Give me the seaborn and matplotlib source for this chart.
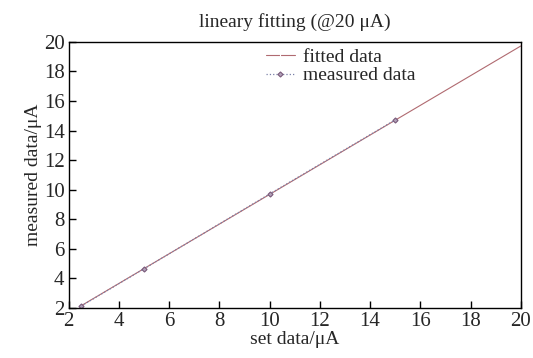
import pandas as pd
import matplotlib.pyplot as plt
import seaborn as sns

# Data
set_fit = [2.5, 5, 10, 15, 20]
fitted = [2.15, 4.66, 9.68, 14.70, 19.72]
set_meas = [2.5, 5, 10, 15]
measured = [2.13, 4.65, 9.71, 14.72]

sns.set_style("ticks")
plt.rcParams["font.family"] = ["Liberation Serif", "DejaVu Serif"]
plt.rcParams["xtick.direction"] = "in"
plt.rcParams["ytick.direction"] = "in"

df_fit = pd.DataFrame({"x": set_fit, "y": fitted})
df_meas = pd.DataFrame({"x": set_meas, "y": measured})

fig = plt.figure(figsize=(5.33, 3.58), dpi=100)
ax = fig.add_axes([0.129, 0.140, 0.848, 0.743])

sns.lineplot(data=df_fit, x="x", y="y", ax=ax, color="#b06a70", lw=0.8,
             marker="|", markersize=4, mew=0.8, label="fitted data")
sns.lineplot(data=df_meas, x="x", y="y", ax=ax, color="#7a80a8", lw=0.9,
             ls=":", marker="D", markersize=2.6, mfc="#b0a0b8", mec="#7a5a7a",
             mew=0.8, label="measured data")

ax.set_xlim(2, 20)
ax.set_ylim(2, 20)
ax.set_xticks(range(2, 21, 2))
ax.set_yticks(range(2, 21, 2))
ax.tick_params(labelsize=15, length=5, width=1, color="black", top=False, right=False,
               pad=3)
for s in ax.spines.values():
    s.set_visible(True)
    s.set_linewidth(1)
    s.set_color("black")

ax.set_xlabel("set data/μA", fontsize=14, labelpad=0)
ax.set_ylabel("measured data/μA", fontsize=14, labelpad=1)
ax.set_title("lineary fitting (@20 μA)", fontsize=14, pad=11)

ax.legend(loc="upper left", bbox_to_anchor=(0.41, 1.02), frameon=False,
          fontsize=14, handlelength=1.5, handletextpad=0.4, labelspacing=0.05,
          borderaxespad=0.2)

plt.savefig("out.png", dpi=100)
plt.close()
